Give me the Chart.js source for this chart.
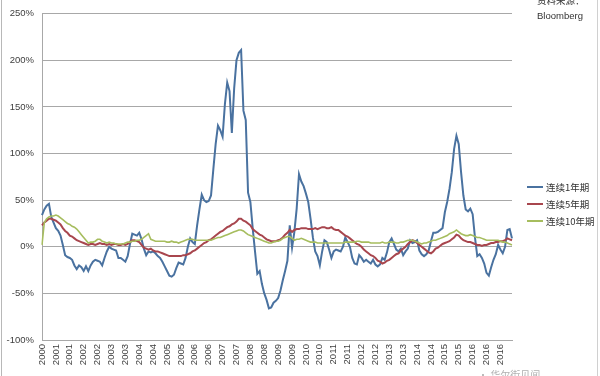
<!DOCTYPE html>
<html>
<head>
<meta charset="utf-8">
<script src="https://cdn.jsdelivr.net/npm/chart.js@4"></script>
<style>
  body { margin: 0; background: #fff; }
  #wrap { position: relative; width: 600px; height: 376px; overflow: hidden; font-family: "Liberation Sans", Arial, sans-serif; }
  #wrap:before { content: ""; position: absolute; left: 1px; top: 0; bottom: 0; border-left: 1px solid #b8b8b8; }
  #wrap:after { content: ""; position: absolute; left: 597px; top: 0; bottom: 0; border-left: 1px solid #d0d0d0; }
  .legend { position: absolute; left: 527px; top: 178px; font: 9.5px "Noto Sans CJK SC", sans-serif; color: #333; }
  .legend div { height: 17.3px; display: flex; align-items: center; }
  .legend span.sw { display: inline-block; width: 16px; height: 2px; margin-right: 3px; }
  .src { position: absolute; left: 537px; font-size: 9.5px; color: #333; }
  .mark { position: absolute; left: 478px; top: 367px; font: 10px "Noto Sans CJK SC", sans-serif; color: #b0b0b0; }
</style>
</head>
<body>
<div id="wrap">
  <canvas id="chart" width="600" height="376"></canvas>
  <div class="legend" id="legend"></div>
  <div class="src" style="top:-7px; font-family:'Noto Sans CJK SC'">资料来源：</div>
  <div class="src" style="top:10px">Bloomberg</div>
  <div class="mark">· 华尔街见闻</div>
</div>
<script>
// SERIES NAMES AND COLOURS
const series_names = ["连续1年期", "连续5年期", "连续10年期"];
const series_colors = ["#4a72a0", "#a8464e", "#a6bd5e"];

// X AXIS: MONTHLY DATA FROM OCT 2000, LABEL EVERY 6 MONTHS
const tick_labels = [
  "2000", "2001", "2001", "2002", "2002", "2003", "2003", "2004", "2004",
  "2005", "2005", "2006", "2006", "2007", "2007", "2008", "2008", "2009",
  "2009", "2010", "2010", "2011", "2011", "2012", "2012", "2013", "2013",
  "2014", "2014", "2015", "2015", "2016", "2016", "2016"
];
tick_labels[33] = "2016";

// Y AXIS TICKS (%)
const y_ticks = [-100, -50, 0, 50, 100, 150, 200, 250];

// 1 YEAR ROLLING RETURN (%)
const one_year = [
  34, 40, 44, 46, 32, 26, 20, 17, 12, 2, -9,
  -11, -12, -14, -20, -24, -20, -22, -26, -21, -26,
  -20, -16, -14, -15, -16, -20, -12, -5, 0, -2,
  -3, -4, -12, -12, -14, -16, -10, 3, 14, 13,
  12, 15, 8, -2, -9, -5, -6, -5, -7, -10,
  -12, -16, -21, -26, -31, -32, -30, -23, -17, -18,
  -19, -12, 0, 9, 5, 3, 23, 40, 56, 50,
  48, 49, 55, 83, 110, 130, 125, 118, 153, 176,
  167, 122, 170, 200, 208, 211, 146, 136, 58, 48,
  20, -5, -29, -26, -40, -50, -57, -66, -65, -60,
  -58, -55, -47, -36, -26, -15, 23, -1, 16, 41,
  78, 70, 65, 57, 48, 30, 10, -5, -10, -20,
  -5, 7, 5, -3, -12, -5, -3, -4, -5, 0,
  10, 5, 0, -12, -18, -19, -9, -12, -16, -14,
  -16, -18, -14, -19, -21, -19, -12, -14, -6, 5,
  9, 3, -3, -5, -2, -9, -5, -2, 7, 4,
  5, 7, -4, -8, -10, -8, -4, 6, 15, 15,
  16, 18, 20, 37, 48, 62, 80, 105, 119, 110,
  80, 55, 40, 38, 41, 35, 10, -10, -8, -12,
  -18, -28, -31, -22, -14, -8, 2, -3, -7, 0, 18, 19, 9
];

// 5 YEAR ROLLING RETURN (%)
const five_year = [
  23, 26, 28, 30, 30, 29, 28, 26, 24, 20,
  17, 15, 12, 11, 9, 7, 6, 5, 4, 3,
  2, 3, 3, 2, 3, 4, 3, 3, 2, 3,
  2, 3, 3, 2, 2, 3, 2, 3, 5, 7,
  7, 6, 5, 2, -1, -2, -3, -2, -4, -5,
  -5, -6, -7, -8, -9, -10, -10, -10, -10, -10,
  -10, -9, -9, -8, -7, -5, -4, -2, 0, 2,
  4, 5, 7, 8, 10, 12, 14, 16, 17, 19,
  21, 22, 24, 25, 27, 30, 30, 28, 27, 25,
  23, 19, 17, 15, 13, 12, 10, 8, 7, 6,
  6, 6, 7, 8, 10, 13, 15, 18, 16, 18,
  19, 19, 20, 20, 20, 19, 19, 19, 20, 19,
  20, 21, 21, 20, 20, 21, 19, 18, 18, 16,
  14, 12, 11, 9, 7, 5, 3, 2, 0, -3,
  -5, -7, -9, -10, -12, -15, -16, -18, -17, -15,
  -14, -12, -10, -8, -7, -4, -2, 0, 3, 5,
  7, 6, 4, 2, 0, -2, -4, -6, -7, -5,
  -2, -1, 1, 3, 4, 5, 6, 8, 10, 13,
  12, 9, 7, 6, 5, 5, 4, 3, 2, 2,
  1, 2, 2, 3, 4, 4, 5, 5, 6, 6,
  7, 9, 8, 7
];

// 10 YEAR ROLLING RETURN (%)
const ten_year = [
  2, 26, 30, 32, 33, 33, 34, 33, 31, 29,
  27, 25, 24, 22, 21, 19, 16, 13, 10, 7,
  4, 5, 5, 6, 8, 8, 6, 5, 4, 5,
  4, 4, 3, 3, 3, 3, 4, 5, 5, 6,
  6, 7, 7, 8, 10, 12, 14, 8, 7, 6,
  6, 6, 6, 6, 5, 5, 6, 5, 5, 4,
  5, 6, 7, 8, 8, 8, 7, 7, 7, 7,
  7, 7, 7, 7, 8, 9, 10, 10, 11, 12,
  13, 14, 15, 16, 17, 18, 18, 17, 15, 13,
  12, 11, 10, 9, 8, 7, 6, 5, 4, 4,
  5, 6, 6, 7, 9, 10, 11, 11, 9, 7,
  8, 8, 9, 8, 7, 6, 5, 5, 5, 4,
  4, 4, 4, 4, 4, 4, 4, 4, 4, 4,
  4, 5, 5, 5, 5, 5, 6, 6, 5, 5,
  5, 5, 4, 4, 4, 4, 4, 5, 4, 4,
  5, 5, 5, 4, 4, 5, 5, 6, 7, 7,
  7, 6, 5, 4, 3, 4, 4, 5, 6, 7,
  7, 8, 9, 10, 11, 12, 14, 15, 16, 18,
  16, 14, 13, 12, 12, 13, 12, 11, 10, 10,
  9, 8, 7, 7, 7, 7, 7, 7, 6, 5,
  5, 4, 3, 2
];

// MONTH CATEGORIES
const months = [];
for (let i = 0; i < one_year.length; i++) {
  let m = 9 + i;
  months.push(`${2000 + Math.floor(m / 12)}-${(m % 12) + 1}`);
}

const all_series = [one_year, five_year, ten_year];
const widths = [2, 2, 1.6];
const orders = [3, 2, 1];

// LEGEND
const legend_element = document.getElementById("legend");
series_names.forEach((name, i) => {
  legend_element.innerHTML += `<div><span class="sw" style="background:${series_colors[i]}"></span>${name}</div>`;
});

const grid_color = "#a8a8a8";
const tick_font = { family: "'Liberation Sans', Arial, sans-serif", size: 9.5 };

new Chart(document.getElementById("chart").getContext("2d"), {
  type: "line",
  data: {
    labels: months,
    datasets: all_series.map((values, i) => ({
      label: series_names[i],
      data: values,
      borderColor: series_colors[i],
      backgroundColor: series_colors[i],
      borderWidth: widths[i],
      pointRadius: 0,
      tension: 0,
      fill: false,
      order: orders[i],
    })),
  },
  options: {
    responsive: false,
    animation: false,
    layout: { padding: { top: 9, right: 88, left: 0, bottom: 0 } },
    plugins: { legend: { display: false }, tooltip: { enabled: false } },
    scales: {
      x: {
        offset: false,
        grid: { display: false, drawTicks: false },
        border: { display: true, color: grid_color, width: 1 },
        afterFit: (scale) => { scale.height = 36; },
        ticks: {
          autoSkip: false,
          maxRotation: 90,
          minRotation: 90,
          padding: 4,
          color: "#404040",
          font: tick_font,
          callback: (val, i) => (i % 6 === 0 ? tick_labels[i / 6] : null),
        },
      },
      y: {
        min: -100,
        max: 250,
        afterFit: (scale) => { scale.width = 42; },
        afterBuildTicks: (scale) => { scale.ticks = y_ticks.map((v) => ({ value: v })); },
        grid: { color: grid_color, lineWidth: 1, drawTicks: false },
        border: { display: true, color: grid_color, width: 1 },
        ticks: {
          padding: 8,
          color: "#404040",
          font: tick_font,
          callback: (v) => v + "%",
        },
      },
    },
  },
});
</script>
</body>
</html>
